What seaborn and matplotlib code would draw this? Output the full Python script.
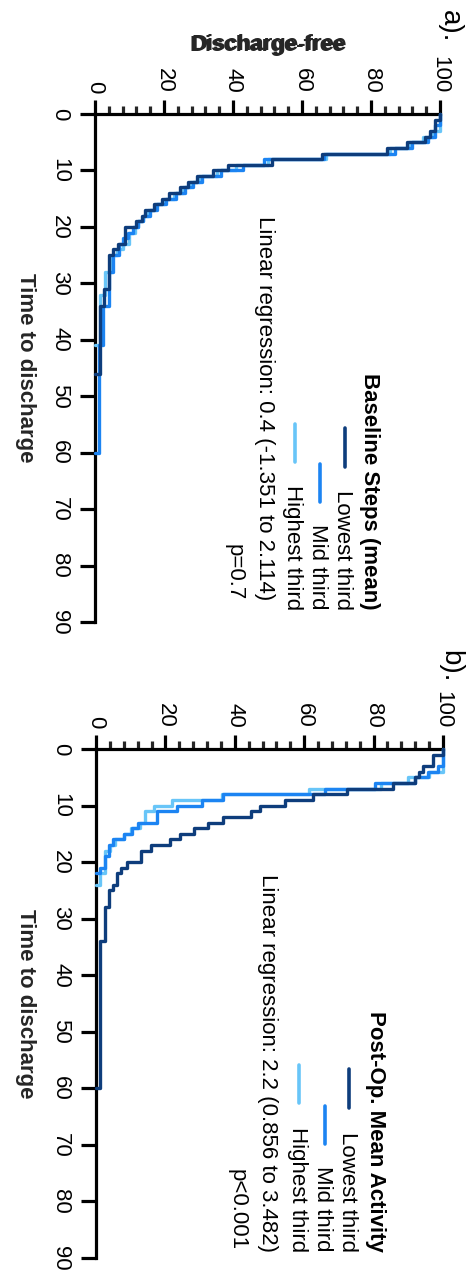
import numpy as np
import pandas as pd
import matplotlib
matplotlib.use("Agg")
import matplotlib.pyplot as plt
import seaborn as sns
from matplotlib.lines import Line2D
from matplotlib.ticker import MultipleLocator

# ---------------- data ----------------
groups = ["Lowest third", "Mid third", "Highest third"]

# Panel a: Baseline Steps (mean)
a_low_t = [0, 1, 3, 4, 5, 6, 7, 8, 9, 10, 11, 12, 13, 14, 15, 16, 17, 18, 19, 20, 23, 24, 25, 31, 34, 46]
a_low_s = [100, 98.6, 97.1, 95.7, 90.3, 84.5, 65.7, 51.2, 38.6, 34.3, 29.7, 27.0, 24.5, 21.5, 19.5, 17.0,
           14.5, 13.5, 12.0, 8.7, 6.8, 5.3, 4.0, 2.7, 1.45, 0]
a_mid_t = [0, 2, 4, 5, 6, 7, 8, 9, 10, 11, 12, 13, 14, 15, 16, 17, 18, 19, 20, 21, 22, 23, 25, 28, 34, 41, 60]
a_mid_s = [100, 98.5, 96.5, 92.0, 87.0, 66.5, 49.0, 43.0, 36.5, 31.0, 28.5, 26.0, 23.5, 20.5, 18.0, 16.0,
           14.0, 12.5, 11.0, 9.5, 8.0, 7.0, 5.3, 4.0, 2.4, 1.2, 0]
a_high_t = [0, 3, 4, 5, 6, 7, 8, 9, 10, 11, 12, 13, 14, 15, 16, 17, 18, 19, 20, 21, 23, 24, 25, 28, 32, 41]
a_high_s = [100, 98.0, 95.0, 91.0, 85.5, 67.0, 50.0, 41.0, 35.5, 30.0, 27.5, 25.5, 23.0, 20.0, 17.5, 15.5,
            14.0, 12.5, 11.5, 9.8, 8.0, 6.5, 4.8, 3.0, 1.4, 0]

# Panel b: Post-Op. Mean Activity
b_low_t = [0, 1, 3, 4, 5, 6, 7, 8, 9, 10, 11, 12, 13, 14, 15, 16, 17, 18, 20, 21, 22, 24, 25, 28, 34, 60]
b_low_s = [100, 97.2, 94.3, 93.0, 91.8, 85.7, 72.2, 62.6, 54.5, 47.3, 44.8, 36.6, 32.3, 28.2, 24.1, 21.2,
           15.9, 13.0, 9.0, 7.3, 6.1, 4.9, 3.7, 2.5, 1.1, 0]
b_mid_t = [0, 3, 4, 5, 6, 7, 8, 9, 10, 11, 13, 14, 15, 16, 17, 19, 21, 22]
b_mid_s = [100, 98.7, 95.8, 91.9, 80.4, 66.0, 36.7, 30.5, 23.4, 17.6, 12.2, 10.5, 8.0, 5.0, 3.7, 2.5, 1.2, 0]
b_high_t = [0, 4, 5, 6, 7, 8, 9, 10, 11, 13, 14, 15, 16, 17, 18, 22, 24]
b_high_s = [100, 96.0, 90.0, 82.0, 61.5, 36.4, 22.0, 16.6, 14.2, 12.8, 10.0, 8.0, 5.6, 4.1, 2.7, 1.2, 0]

x_ticks = [0, 20, 40, 60, 80, 100]
t_ticks = [0, 10, 20, 30, 40, 50, 60, 70, 80, 90]

titles = ["Baseline Steps (mean)", "Post-Op. Mean Activity"]
reg_text = ["Linear regression: 0.4 (-1.351 to 2.114)", "Linear regression: 2.2 (0.856 to 3.482)"]
p_text = ["p=0.7", "p<0.001"]
panel_tags = ["a).", "b)."]

colors = {"Lowest third": "#0e3d7c", "Mid third": "#1c84f2", "Highest third": "#68c5f8"}

# ---------------- style ----------------
sns.set_theme(style="ticks")
plt.rcParams['font.family'] = ['Liberation Sans', 'DejaVu Sans']

W, H = 469, 1273
fig = plt.figure(figsize=(W / 100, H / 100), dpi=100)


def frame(df_rows):
    frames = []
    for g, t, s in df_rows:
        frames.append(pd.DataFrame({"time": t, "surv": s, "group": g}))
    return pd.concat(frames, ignore_index=True)


panels = [
    frame([("Highest third", a_high_t, a_high_s), ("Mid third", a_mid_t, a_mid_s), ("Lowest third", a_low_t, a_low_s)]),
    frame([("Highest third", b_high_t, b_high_s), ("Mid third", b_mid_t, b_mid_s), ("Lowest third", b_low_t, b_low_s)]),
]

# axes boxes in pixels: (left, right, top, bottom)
boxes = [(95, 440, 114, 622), (96, 443, 749, 1258)]
# legend/text pixel layout per panel (baseline x, end y)
lay = [
    dict(title=(364, 610), rows=[(337, 610), (312, 610), (287, 610)],
         lines=[(345, 428, 467), (320, 464, 502), (295, 424, 462)],
         reg=(259, 600), p=(229, 600), tag=(443, 10)),
    dict(title=(370, 1252), rows=[(342, 1252), (317, 1252), (292, 1252)],
         lines=[(349, 1069, 1108), (325, 1106, 1144), (299, 1065, 1103)],
         reg=(262, 1252), p=(232, 1250), tag=(443, 650)),
]

FS = 16
LW_AX = 2.3

for i in range(2):
    l, r, tp, bt = boxes[i]
    ax = fig.add_axes([l / W, 1 - bt / H, (r - l) / W, (bt - tp) / H])
    sns.lineplot(data=panels[i], x="surv", y="time", hue="group",
                 hue_order=["Highest third", "Mid third", "Lowest third"],
                 palette=colors, sort=False, estimator=None, drawstyle="steps-pre",
                 linewidth=2.4, legend=False, ax=ax, clip_on=False, zorder=3)
    ax.set_xlim(0, 100)
    ax.set_ylim(90, 0)
    ax.xaxis.tick_top()
    ax.set_xticks(x_ticks)
    ax.xaxis.set_minor_locator(MultipleLocator(4))
    ax.set_yticks(t_ticks)
    for s in ["right", "bottom"]:
        ax.spines[s].set_visible(False)
    for s in ["top", "left"]:
        ax.spines[s].set_linewidth(LW_AX)
        ax.spines[s].set_color("black")
    ax.tick_params(axis="x", which="major", length=10, width=LW_AX, direction="out", pad=5,
                   labelsize=FS, colors="black")
    ax.tick_params(axis="x", which="minor", length=6, width=LW_AX, direction="out", top=True, bottom=False)
    ax.tick_params(axis="y", which="major", length=11, width=LW_AX, direction="out", pad=7,
                   labelsize=FS, colors="black")
    for lab in ax.get_xticklabels():
        lab.set_rotation(-90)
        lab.set_va("bottom")
        lab.set_ha("center")
    for lab in ax.get_yticklabels():
        lab.set_rotation(-90)
        lab.set_va("center")
        lab.set_ha("right")
    ax.xaxis.set_label_position("top")
    ax.set_xlabel("Discharge-free", fontsize=FS, fontweight="bold", va="center")
    ax.xaxis.set_label_coords(0.5, 1 + (tp - 45) / (bt - tp))
    ax.set_ylabel("Time to discharge", fontsize=FS, fontweight="bold", rotation=-90, va="center", ha="center")
    ax.yaxis.set_label_coords((25 - l) / (r - l), 0.5)
    ax.grid(False)
    ax.set_facecolor("none")

    L = lay[i]

    def rtext(pos, s, weight="normal", size=FS, ha="right"):
        fig.text(pos[0] / W, 1 - pos[1] / H, s, rotation=-90, rotation_mode="anchor",
                 ha=ha, va="baseline", fontsize=size, fontweight=weight, color="black")

    rtext(L["title"], titles[i], weight="bold")
    for g, pos in zip(groups, L["rows"]):
        rtext(pos, g)
    for g, (lx, y0, y1) in zip(groups, L["lines"]):
        fig.add_artist(Line2D([lx / W, lx / W], [1 - y0 / H, 1 - y1 / H], transform=fig.transFigure,
                              color=colors[g], linewidth=2.6, solid_capstyle="round"))
    rtext(L["reg"], reg_text[i])
    rtext(L["p"], p_text[i])
    rtext(L["tag"], panel_tags[i], size=20, ha="left")

fig.savefig("out.png", dpi=100)
